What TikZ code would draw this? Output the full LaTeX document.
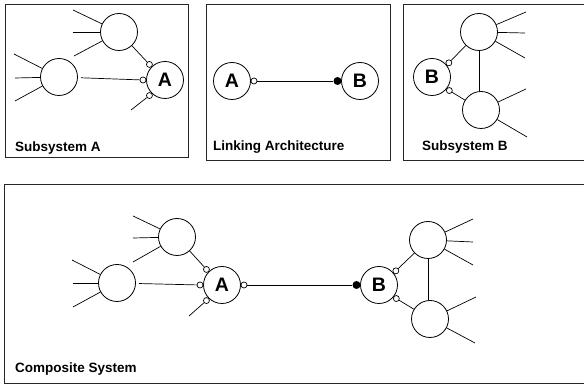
\documentclass[tikz,border=0pt]{standalone}
\usepackage{fontspec}
\setmainfont{Liberation Sans}
\begin{document}
\begin{tikzpicture}[x=1pt,y=1pt,
  panel/.style={draw=black!85, line width=0.8pt},
  big/.style={circle, draw, line width=0.8pt, minimum size=37pt, inner sep=0pt},
  letter/.style={font=\fontsize{19.5}{21}\selectfont\bfseries},
  port/.style={circle, draw, line width=0.7pt, fill=white, minimum size=6pt, inner sep=0pt},
  dotport/.style={circle, fill=black, minimum size=8pt, inner sep=0pt},
  link/.style={line width=0.7pt},
  lbl/.style={font=\fontsize{13.5}{16}\selectfont\bfseries, anchor=base west, inner sep=0pt}]
\clip (0,0) rectangle (584,385);
\fill[white] (0,0) rectangle (584,385);

% ---------- Subsystem A ----------
\draw[panel] (5,381) rectangle (188,228);
\node[big] (sa-u) at (119,353) {};
\node[big] (sa-l) at (59,308) {};
\node[big,letter] (sa-a) at (165,305) {A};
\node[port] (sa-p1) at ([shift={(135:22pt)}]sa-a.center) {};
\node[port] (sa-p2) at ([shift={(180:22pt)}]sa-a.center) {};
\node[port] (sa-p3) at ([shift={(225:22pt)}]sa-a.center) {};
\coordinate (sa-u1) at (73,375);
\coordinate (sa-u2) at (73,353);
\coordinate (sa-u3) at (74,329);
\coordinate (sa-l1) at (14,331);
\coordinate (sa-l2) at (15,307);
\coordinate (sa-l3) at (15,284);
\coordinate (sa-e) at (131,275);
\draw[link] (sa-u1) -- (sa-u);
\draw[link] (sa-u2) -- (sa-u);
\draw[link] (sa-u3) -- (sa-u);
\draw[link] (sa-l1) -- (sa-l);
\draw[link] (sa-l2) -- (sa-l);
\draw[link] (sa-l3) -- (sa-l);
\draw[link,shorten <=3pt] (sa-l) -- (sa-p2);
\draw[link] (sa-u) -- (sa-p1);
\draw[link] (sa-p3) -- (sa-e);
\node[lbl] (sa-t) at (15,233) {Subsystem A};

% ---------- Linking Architecture ----------
\draw[panel] (206,381) rectangle (390,225);
\node[big,letter] (la-a) at (232,304) {A};
\node[big,letter] (la-b) at (360,304) {B};
\node[port] (la-p) at ([shift={(0:22pt)}]la-a.center) {};
\node[dotport] (la-d) at ([shift={(180:22.5pt)}]la-b.center) {};
\draw[link] (la-p) -- (la-d);
\node[lbl] (la-t) at (213,234) {Linking Architecture};

% ---------- Subsystem B ----------
\draw[panel] (403,381) rectangle (595,225);
\node[big,letter] (sb-b) at (432,308) {B};
\node[big] (sb-u) at (479,353) {};
\node[big] (sb-l) at (481,275) {};
\node[port] (sb-p1) at ([shift={(40:22pt)}]sb-b.center) {};
\node[port] (sb-p2) at ([shift={(-38:22pt)}]sb-b.center) {};
\coordinate (sb-u1) at (526,373);
\coordinate (sb-u2) at (525,352);
\coordinate (sb-u3) at (525,327);
\coordinate (sb-l1) at (526,296);
\coordinate (sb-l2) at (527,248);
\draw[link] (sb-p1) -- (sb-u);
\draw[link] (sb-p2) -- (sb-l);
\draw[link] (sb-u.south) -- (sb-u.south |- sb-l.north);
\draw[link] (sb-u) -- (sb-u1);
\draw[link] (sb-u) -- (sb-u2);
\draw[link] (sb-u) -- (sb-u3);
\draw[link] (sb-l) -- (sb-l1);
\draw[link] (sb-l) -- (sb-l2);
\node[lbl] (sb-t) at (422,234) {Subsystem B};

% ---------- Composite System ----------
\draw[panel] (4,201) rectangle (595,2);
\node[big] (cs-u) at (177,148) {};
\node[big] (cs-l) at (117,102) {};
\node[big,letter] (cs-a) at (222,100) {A};
\node[port] (cs-p1) at ([shift={(135:22pt)}]cs-a.center) {};
\node[port] (cs-p2) at ([shift={(180:22pt)}]cs-a.center) {};
\node[port] (cs-p3) at ([shift={(225:22pt)}]cs-a.center) {};
\node[port] (cs-p4) at ([shift={(0:22pt)}]cs-a.center) {};
\coordinate (cs-u1) at (133,169);
\coordinate (cs-u2) at (133,147);
\coordinate (cs-u3) at (133,123);
\coordinate (cs-l1) at (72,125);
\coordinate (cs-l2) at (73,102);
\coordinate (cs-l3) at (73,78);
\coordinate (cs-e) at (189,69);
\draw[link] (cs-u1) -- (cs-u);
\draw[link] (cs-u2) -- (cs-u);
\draw[link] (cs-u3) -- (cs-u);
\draw[link] (cs-l1) -- (cs-l);
\draw[link] (cs-l2) -- (cs-l);
\draw[link] (cs-l3) -- (cs-l);
\draw[link,shorten <=3pt] (cs-l) -- (cs-p2);
\draw[link] (cs-u) -- (cs-p1);
\draw[link] (cs-p3) -- (cs-e);

\node[big,letter] (cs-b) at (379,100) {B};
\node[dotport] (cs-d) at ([shift={(180:22.5pt)}]cs-b.center) {};
\draw[link] (cs-p4) -- (cs-d);
\node[big] (cs-ru) at (428,145) {};
\node[big] (cs-rl) at (430,66) {};
\node[port] (cs-q1) at ([shift={(40:22pt)}]cs-b.center) {};
\node[port] (cs-q2) at ([shift={(-38:22pt)}]cs-b.center) {};
\coordinate (cs-ru1) at (473,166);
\coordinate (cs-ru2) at (473,143);
\coordinate (cs-ru3) at (473,120);
\coordinate (cs-rl1) at (476,88);
\coordinate (cs-rl2) at (475,42);
\draw[link] (cs-q1) -- (cs-ru);
\draw[link] (cs-q2) -- (cs-rl);
\draw[link] (cs-ru.south) -- (cs-ru.south |- cs-rl.north);
\draw[link] (cs-ru) -- (cs-ru1);
\draw[link] (cs-ru) -- (cs-ru2);
\draw[link] (cs-ru) -- (cs-ru3);
\draw[link] (cs-rl) -- (cs-rl1);
\draw[link] (cs-rl) -- (cs-rl2);
\node[lbl] (cs-t) at (15,12) {Composite System};
\end{tikzpicture}
\end{document}
